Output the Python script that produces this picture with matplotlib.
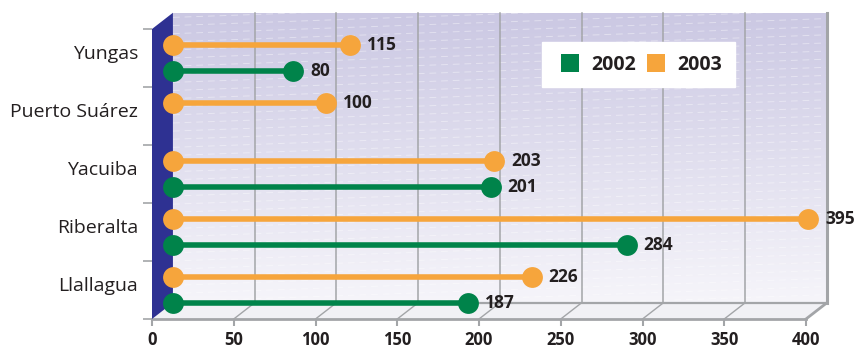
import numpy as np
import matplotlib.pyplot as plt
from matplotlib.patches import Polygon, Rectangle
from matplotlib.lines import Line2D
from matplotlib.colors import LinearSegmentedColormap

plt.rcParams['font.family'] = ['Open Sans', 'DejaVu Sans']

# data (bottom -> top)
cities = ["Llallagua", "Riberalta", "Yacuiba", "Puerto Suárez", "Yungas"]
values_2002 = [187, 284, 201, None, 80]
values_2003 = [226, 395, 203, 100, 115]
x_ticks = [0, 50, 100, 150, 200, 250, 300, 350, 400]
series_names = ["2002", "2003"]

GREEN = "#00834a"
ORANGE = "#f6a53c"
WALL = "#2e3192"
GRID = "#a3a5a8"
TEXT = "#231f20"

x_max = 400
depth_x = 12.8   # fake 3d depth, in data units
depth_y = 0.28

fig = plt.figure(figsize=(8.56, 3.5), dpi=100)
ax = fig.add_axes([152 / 856, 31 / 350, 654 / 856, 290 / 350])

# back wall with gradient
grad_cmap = LinearSegmentedColormap.from_list("wall", ["#f6f5fa", "#cbc8e3"])
grad = np.linspace(0, 1, 256).reshape(-1, 1)
ax.imshow(grad, cmap=grad_cmap, origin='lower', aspect='auto',
          extent=[depth_x, x_max + depth_x, -0.5 + depth_y, 4.5 + depth_y],
          zorder=0, clip_on=False)

# faint texture stripes on the wall
wall_box = Rectangle((depth_x, -0.5 + depth_y), x_max, 5, transform=ax.transData)
for y0 in np.arange(-0.9, 4.8, 0.14):
    ln, = ax.plot([depth_x, x_max + depth_x], [y0, y0 + 0.4],
                  color='white', lw=0.7, alpha=0.4, ls=(0, (7, 5)), zorder=0.2)
    ln.set_clip_path(wall_box)

# grid lines on back wall
for x in x_ticks[1:]:
    lw = 2.2 if x == x_max else 1.1
    ax.plot([x + depth_x, x + depth_x], [-0.5 + depth_y, 4.5 + depth_y],
            color=GRID, lw=lw, zorder=0.5, clip_on=False)

# floor
floor = Polygon([(0, -0.5), (x_max, -0.5), (x_max + depth_x, -0.5 + depth_y),
                 (depth_x, -0.5 + depth_y)], closed=True,
                facecolor="#f1f1f5", edgecolor='none', zorder=0.6, clip_on=False)
ax.add_patch(floor)
ax.plot([depth_x, x_max + depth_x], [-0.5 + depth_y, -0.5 + depth_y],
        color=GRID, lw=1.6, zorder=0.7, clip_on=False)
for x in x_ticks[1:]:
    lw = 2.0 if x == x_max else 1.0
    ax.plot([x, x + depth_x], [-0.5, -0.5 + depth_y], color=GRID, lw=lw,
            zorder=0.7, clip_on=False)

# left wall
wall = Polygon([(0, -0.5), (0, 4.5), (depth_x, 4.5 + depth_y), (depth_x, -0.5 + depth_y)],
               closed=True, facecolor=WALL, edgecolor='none', zorder=2, clip_on=False)
ax.add_patch(wall)


def draw_series(values, color, offset):
    for i, v in enumerate(values):
        if v is None:
            continue
        y = i + offset
        end = v + depth_x / 2
        ax.plot([depth_x * 0.6, end], [y, y], color=color, lw=4, zorder=1.5,
                solid_capstyle='butt', clip_on=False)
        ax.plot([depth_x, end], [y, y], 'o', color=color, ms=15, mew=0,
                zorder=3, clip_on=False)
        ax.annotate(str(v), (end, y), xytext=(12, 0), textcoords='offset points',
                    ha='left', va='center', fontsize=12.5, fontweight='bold',
                    color=TEXT, zorder=4, annotation_clip=False)


draw_series(values_2003, ORANGE, 0.22)
draw_series(values_2002, GREEN, -0.22)

ax.set_xlim(0, x_max)
ax.set_ylim(-0.5, 4.5)

# axes styling
for side in ['left', 'top', 'right']:
    ax.spines[side].set_visible(False)
ax.spines['bottom'].set_color(GRID)
ax.spines['bottom'].set_linewidth(2)
ax.spines['bottom'].set_zorder(1)

ax.set_xticks(x_ticks)
ax.set_xticklabels([str(t) for t in x_ticks], fontsize=12, fontweight='bold', color=TEXT)
ax.tick_params(axis='x', length=5, width=1.5, color=GRID, pad=3.5)

ax.set_yticks(np.arange(-0.5, 5, 1.0))
ax.set_yticklabels([])
ax.set_yticks(np.arange(len(cities)) + 0.1, minor=True)
ax.set_yticklabels(cities, minor=True, fontsize=14, color=TEXT)
ax.tick_params(axis='y', which='major', length=6.5, width=1.2, color=GRID)
ax.tick_params(axis='y', which='minor', length=0, pad=10)

handles = [Line2D([], [], marker='s', ls='none', color=GREEN, ms=12.5, mew=0),
           Line2D([], [], marker='s', ls='none', color=ORANGE, ms=12.5, mew=0)]
leg = ax.legend(handles, series_names, loc='upper left', ncol=2,
                bbox_to_anchor=(542 / 856, 1 - 42 / 350), bbox_transform=fig.transFigure,
                fancybox=False, framealpha=1, edgecolor='white', borderaxespad=0,
                borderpad=0.65, handlelength=1.6, handletextpad=0.3, columnspacing=0.2,
                prop={'size': 14, 'weight': 'bold'})
for t in leg.get_texts():
    t.set_color(TEXT)
leg.set_zorder(5)

plt.savefig("out.png", dpi=100)
